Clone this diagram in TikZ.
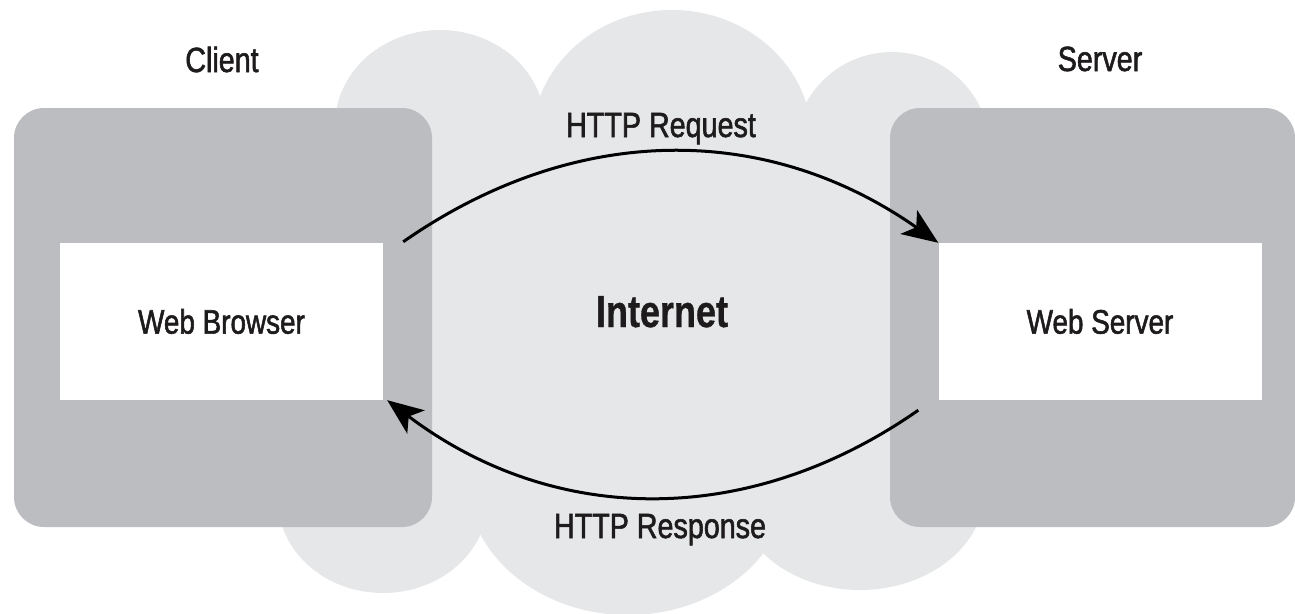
\documentclass[tikz,border=0pt]{standalone}
\usepackage{fontspec}
\setmainfont[FakeStretch=0.82,FakeBold=1.6]{Liberation Sans}
\newfontfamily\netfont[FakeStretch=0.80,FakeBold=0.8]{Liberation Sans Bold}
\usetikzlibrary{arrows.meta,calc}
\definecolor{cloudgray}{HTML}{E6E7E8}
\definecolor{boxgray}{HTML}{BCBDC0}
\definecolor{ink}{HTML}{1E1B1C}
\begin{document}
\begin{tikzpicture}[x=1pt,y=-1pt,
  lbl/.style={text=ink,font=\fontsize{35}{40}\selectfont,inner sep=0pt,anchor=base},
  bigl/.style={text=ink,font=\fontsize{45}{50}\netfont,inner sep=0pt,anchor=base},
  outerbox/.style={fill=boxgray,rounded corners=30pt,inner sep=0pt},
  whitebox/.style={fill=white,inner sep=0pt,text=ink,font=\fontsize{34}{40}\selectfont,
    minimum width=323pt,minimum height=157pt},
  cloudpart/.style={fill=cloudgray},
  flow/.style={line width=3pt,draw=black,-{Stealth[length=36pt,width=29pt,inset=9pt]}}]
\clip (0,0) rectangle (1295,613);
\useasboundingbox (0,0) rectangle (1295,613);
% cloud
\fill[cloudpart] (440,125) ellipse [x radius=105, y radius=95];
\fill[cloudpart] (672,140) ellipse [x radius=140, y radius=130];
\fill[cloudpart] (892,150) ellipse [x radius=98, y radius=98];
\fill[cloudpart] (383,500) ellipse [x radius=105, y radius=93];
\fill[cloudpart] (628,478) ellipse [x radius=162, y radius=137];
\fill[cloudpart] (860,490) ellipse [x radius=125, y radius=100];
\fill[cloudpart] (340,110) rectangle (980,527);
% boxes
\node[outerbox,minimum width=418pt,minimum height=419pt] (client) at (223,317.5) {};
\node[outerbox,minimum width=405pt,minimum height=419pt] (server) at (1092.5,317.5) {};
\node[whitebox] (wb) at (221.5,321.5) {Web Browser};
\node[whitebox] (ws) at (1100,321.5) {Web Server};
% labels
\node[lbl] (lclient) at (222,72) {Client};
\node[lbl] (lserver) at (1100,71) {Server};
\node[lbl] (lreq) at (661,137) {HTTP Request};
\node[lbl] (lresp) at (660,538) {HTTP Response};
\node[bigl] (lnet) at (662,327) {Internet};
% arrows
\coordinate (reqS) at ($(wb.north east)+(20,-1)$);
\coordinate (respS) at ($(ws.south west)+(-20,10)$);
\coordinate (respE) at ($(wb.south east)+(4,0)$);
\draw[flow] (reqS) to[bend left=35] (ws.north west);
\draw[flow] (respS) to[bend left=36] (respE);
\end{tikzpicture}
\end{document}
